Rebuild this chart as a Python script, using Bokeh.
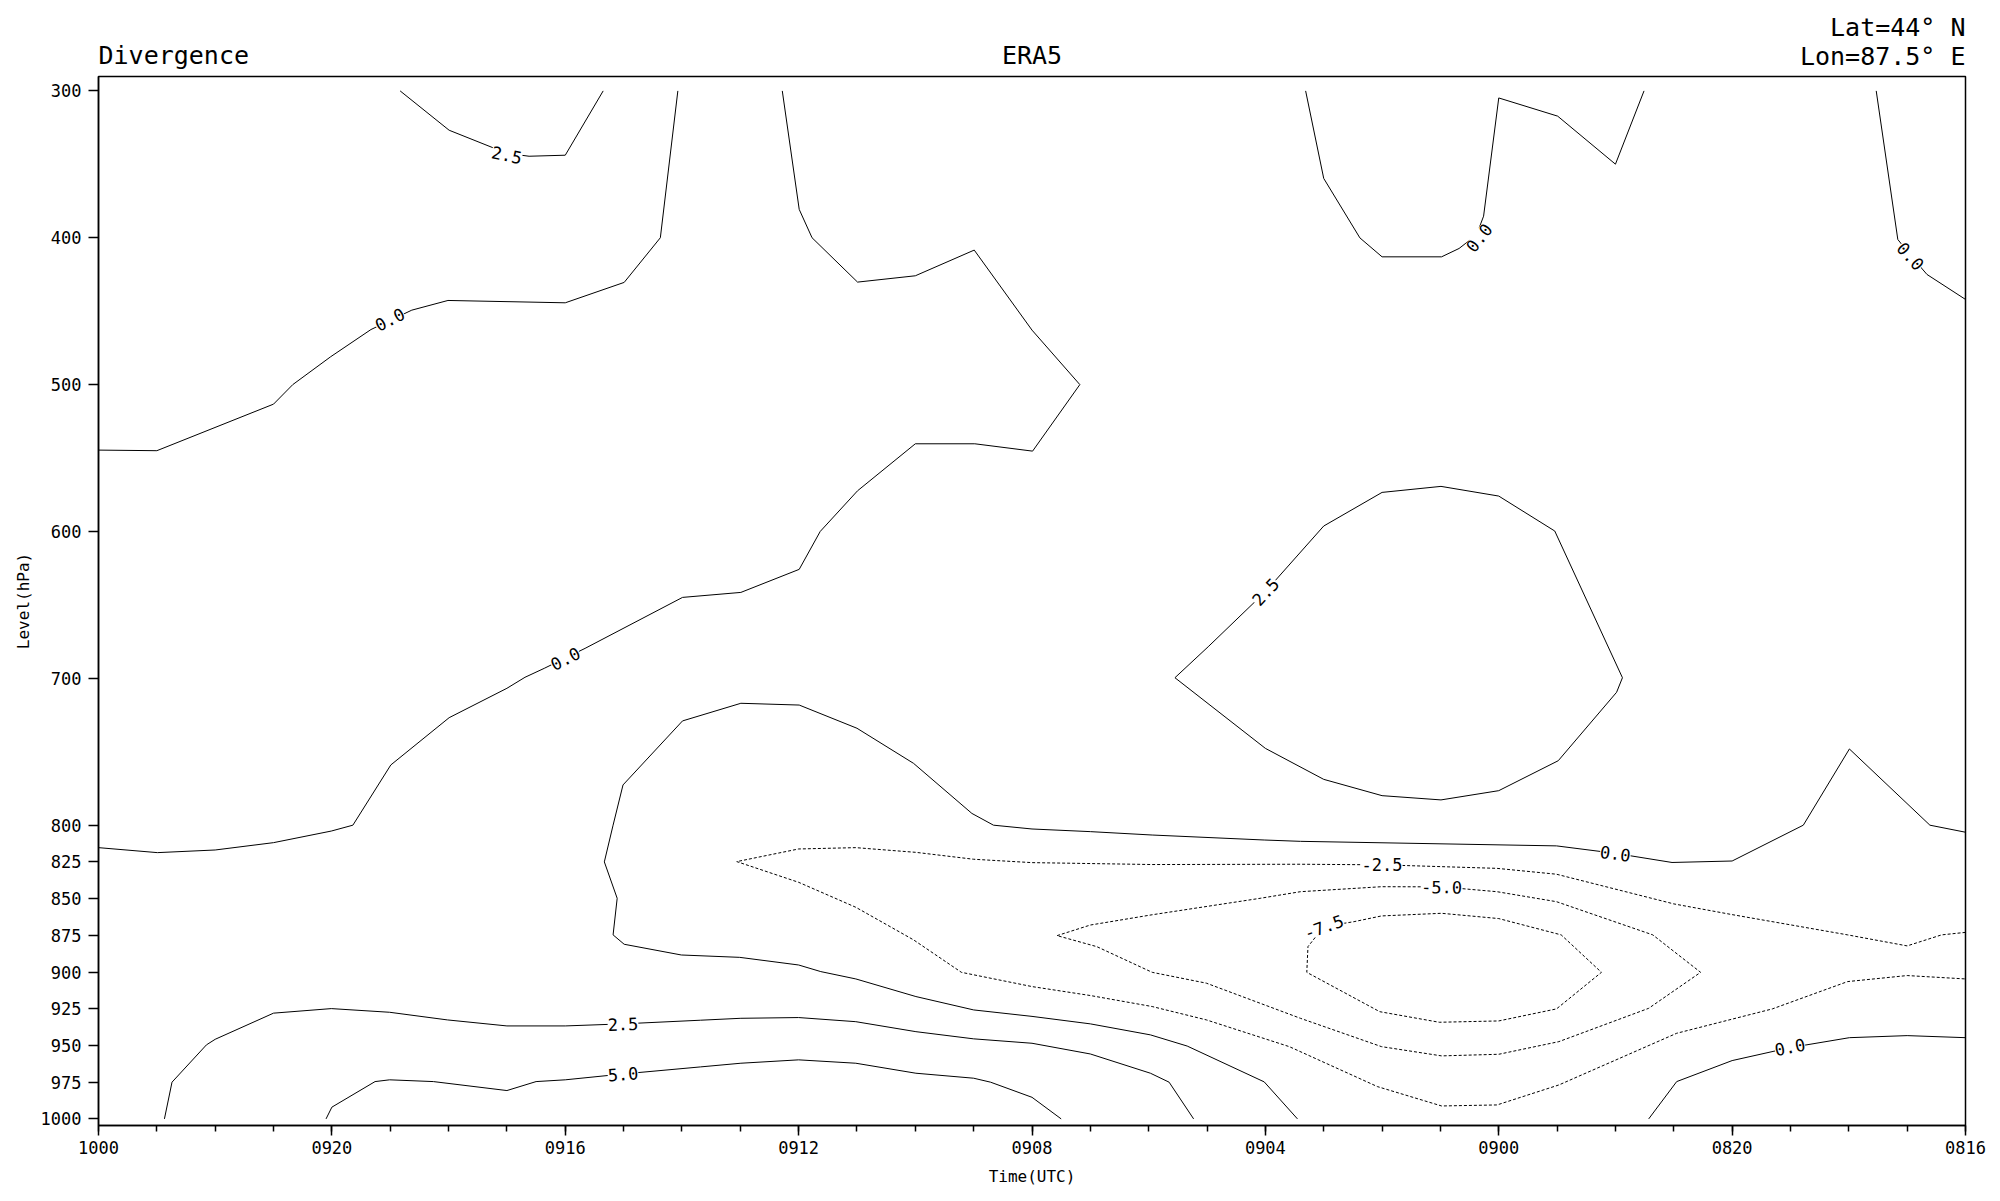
from bokeh.plotting import figure
from bokeh.models import Range1d, FixedTicker
from bokeh.layouts import column
from bokeh.embed import file_html
from bokeh.resources import INLINE
from bokeh.core.properties import value

FONT = "DejaVu Sans Mono"

# ---------------- data ----------------
# x: hours counted from 10 Sep 00 UTC (left) back to 08 Sep 16 UTC (right)
time_ticks = [0, 4, 8, 12, 16, 20, 24, 28, 32]
time_tick_labels = ["1000", "0920", "0916", "0912", "0908", "0904", "0900", "0820", "0816"]
time_minor = list(range(0, 33))
level_ticks = [300, 400, 500, 600, 700, 800, 825, 850, 875, 900, 925, 950, 975, 1000]

# contour 2.5, upper left
c_a_t = [5.17, 6.01, 7.0, 7.38, 8.0, 8.65]
c_a_p = [300, 326.8, 342.5, 344.5, 343.8, 300]
# contour 0.0, upper left
c_b_t = [0.0, 1.0, 3.0, 3.33, 3.98, 4.67, 5.37, 5.99, 8.0, 9.01, 9.63, 9.93]
c_b_p = [544.6, 545.0, 513.3, 500.0, 481.0, 462.5, 449.3, 442.7, 444.3, 430.4, 400.0, 300.0]
# contour 0.0, long band
c_c_t = [11.72, 12.01, 12.23, 13.01, 14.0, 15.01, 16.0, 16.82, 16.01, 15.02, 14.0, 13.01, 12.37, 12.01,
         11.01, 10.01, 8.34, 7.64, 7.31, 7.0, 6.01, 5.01, 4.36, 3.99, 3.0, 2.0, 1.01, 0.0]
c_c_p = [300, 380.7, 400, 430.2, 425.9, 408.4, 462.9, 500, 545.3, 540.3, 540.3, 572.3, 600, 625.8,
         641.5, 644.9, 679.6, 693.2, 699.3, 706.8, 726.8, 759, 800, 804, 811.9, 816.9, 818.7, 815.3]
# contour 0.0, upper right
c_d_t = [20.69, 21.0, 21.62, 22.0, 23.02, 23.32, 23.62, 23.74, 24.0, 25.01, 26.0, 26.49]
c_d_p = [300, 359.6, 400.1, 413, 413, 407.3, 398, 385.3, 304.8, 317.2, 349.9, 300]
# contour 0.0, right edge top
c_e_t = [30.47, 30.84, 31.08, 31.34, 32.0]
c_e_p = [300, 401.2, 413, 425, 442]
# contour 2.5, closed cell
c_f_t = [18.45, 19.02, 20.0, 21.0, 22.0, 23.01, 24.0, 24.96, 26.12, 26.02, 25.02, 24.0, 23.01, 22.0,
         21.0, 20.0, 18.45]
c_f_p = [699.6, 678.5, 641, 596.3, 573.4, 569.3, 575.9, 599.7, 699.6, 709.5, 756.1, 776.5, 782.8,
         779.9, 768.8, 747.7, 699.6]
# contour 0.0, around the low-level convergence
c_g_t = [32.0, 31.39, 30.01, 29.22, 28.0, 26.97, 26.0, 24.99, 20.6, 19.98, 18.06, 17.0, 16.0, 15.34,
         14.97, 13.97, 13.0, 12.01, 11.01, 10.01, 8.99, 8.82, 8.67, 8.89, 8.82, 9.01, 9.99, 10.99, 12.0,
         12.38, 12.98, 14.01, 15.0, 16.0, 17.0, 18.03, 18.66, 19.98, 20.55]
c_g_p = [804.8, 800, 748.1, 800, 824.4, 825.4, 819.2, 814.1, 811.0, 810.1, 806.7, 804.4, 802.6, 800,
         792, 757.9, 734, 718.2, 717, 729, 772.6, 800, 825, 849.8, 874.7, 881.1, 888.4, 890, 895.2,
         899.7, 904.7, 916.7, 925.8, 930.2, 935.3, 942.8, 950.4, 974.8, 1000]
# contour -2.5
c_m25_t = [32.0, 31.59, 31.0, 29.98, 28.0, 27.0, 24.99, 23.97, 22.0, 20.6, 18.06, 16.0, 15.0, 14.01,
           12.98, 12.0, 10.94, 12.0, 12.98, 13.97, 14.79, 16.0, 17.0, 18.06, 18.99, 20.41, 21.92,
           23.02, 23.97, 25.03, 27.05, 28.69, 29.98, 31.0, 32.0]
c_m25_p = [873.0, 874.7, 882.2, 874.7, 860.9, 853.6, 833.4, 829.4, 827.0, 826.6, 826.8, 825.5, 823.2,
           818.5, 815.3, 816.2, 824.8, 838.9, 855.9, 878.1, 900.2, 909.9, 916.0, 923.5, 932.6, 950.8,
           978.0, 991.2, 990.5, 976.9, 941.7, 925.1, 906.5, 902.4, 904.7]
# contour -5.0
c_m50_t = [16.43, 17.0, 18.06, 19.91, 20.6, 21.99, 23.02, 23.97, 24.99, 26.64, 27.46, 26.57, 25.03,
           24.0, 23.02, 21.99, 20.6, 18.99, 18.06, 17.11, 16.43]
c_m50_p = [875.2, 868.0, 861.0, 849.8, 845.3, 841.9, 842.0, 845.3, 852.1, 874.7, 900.2, 924.7, 947.4,
           956.0, 957.1, 950.8, 931.5, 907.6, 900.2, 882.7, 875.2]
# contour -7.5
c_m75_t = [21.0, 21.52, 21.99, 23.02, 24.0, 25.07, 25.76, 24.99, 24.0, 22.98, 21.96, 20.71, 20.73, 21.0]
c_m75_p = [869.1, 865.7, 861.8, 860.0, 863.6, 874.7, 900.2, 925.1, 933.3, 934.2, 927.0, 900.2, 882.7, 869.1]
# contour 0.0, lower right
c_h_t = [26.57, 27.05, 28.0, 28.99, 30.01, 31.0, 32.0]
c_h_p = [1000, 974.6, 960.3, 951.5, 944.7, 943.3, 944.7]
# contour 2.5, lower band
c_i_t = [1.13, 1.26, 1.85, 2.0, 3.0, 3.99, 4.99, 5.98, 7.0, 8.0, 8.99, 10.32, 11.01, 12.0, 12.98,
         14.01, 15.0, 16.0, 17.0, 18.03, 18.35, 18.77]
c_i_p = [1000, 975, 949.6, 945.8, 928, 924.9, 927.4, 932.6, 936.7, 936.7, 935.3, 932.8, 931.5, 931,
         933.8, 940.6, 945.5, 948.5, 955.8, 968.9, 975, 1000]
# contour 5.0, lowest band
c_j_t = [3.9, 4.0, 4.74, 4.99, 5.74, 7.0, 7.5, 8.0, 8.99, 10.32, 11.01, 12.0, 12.98, 14.01, 15.0,
         15.29, 16.0, 16.5]
c_j_p = [1000, 992, 974.6, 973.4, 974.6, 980.7, 974.6, 973.4, 969.4, 964.6, 962.1, 959.8, 962.1,
         968.9, 972.3, 975, 985.3, 1000]

contour_levels = [2.5, 0.0, 0.0, 0.0, 0.0, 2.5, 0.0, -2.5, -5.0, -7.5, 0.0, 2.5, 5.0]
contour_t = [c_a_t, c_b_t, c_c_t, c_d_t, c_e_t, c_f_t, c_g_t, c_m25_t, c_m50_t, c_m75_t, c_h_t, c_i_t, c_j_t]
contour_p = [c_a_p, c_b_p, c_c_p, c_d_p, c_e_p, c_f_p, c_g_p, c_m25_p, c_m50_p, c_m75_p, c_h_p, c_i_p, c_j_p]

# contour labels
lab_t = [7.0, 4.99, 8.0, 23.66, 31.06, 20.0, 8.99, 8.99, 26.0, 22.0, 23.02, 21.0, 28.99]
lab_p = [343.5, 455.5, 686.5, 400.0, 412.5, 641.0, 935.3, 969.4, 819.2, 826.5, 842.0, 869.1, 951.0]
lab_text = ["2.5", "0.0", "0.0", "0.0", "0.0", "2.5", "2.5", "5.0", "0.0", "-2.5", "-5.0", "-7.5", "0.0"]
lab_angle = [-12, 27, 27, 52, -48, 47, 2, 4, -8, 0, -1, 20, 11]

# header texts (x in the same time coordinate, y = pixels above header bottom)
head_text = ["Divergence", "ERA5", "Lon=87.5° E", "Lat=44° N"]
head_x = [0, 16, 32, 32]
head_y = [17, 17, 16, 45]
head_align = ["left", "center", "right", "right"]

FRAME_W, FRAME_H = 1867, 1049
BORDER_L, BORDER_R = 98, 30
HEAD_H = 72

# ---------------- header ----------------
h = figure(frame_width=FRAME_W, frame_height=HEAD_H, x_range=Range1d(0, 32), y_range=Range1d(0, HEAD_H),
           output_backend="svg", toolbar_location=None,
           min_border_left=BORDER_L, min_border_right=BORDER_R, min_border_top=0, min_border_bottom=0,
           background_fill_color="white", border_fill_color="white")
h.axis.visible = False
h.grid.visible = False
h.outline_line_color = None
h.text(x=head_x, y=head_y, text=head_text, text_align=head_align, text_baseline="alphabetic",
       text_font=value(FONT), text_font_size=value("25px"), text_color="black")

# ---------------- main figure ----------------
p = figure(frame_width=FRAME_W, frame_height=FRAME_H,
           x_range=Range1d(0, 32), y_range=Range1d(1004.5, 290.2),
           output_backend="svg", toolbar_location=None,
           min_border_left=BORDER_L, min_border_right=BORDER_R, min_border_top=4, min_border_bottom=67,
           background_fill_color="white", border_fill_color="white")
p.outline_line_color = "black"
p.outline_line_width = 1.5
p.xgrid.visible = False
p.ygrid.visible = False

solid_xs, solid_ys, dash_xs, dash_ys = [], [], [], []
for lev, ts, ps in zip(contour_levels, contour_t, contour_p):
    if lev < 0:
        dash_xs.append(ts); dash_ys.append(ps)
    else:
        solid_xs.append(ts); solid_ys.append(ps)

p.multi_line(solid_xs, solid_ys, line_color="black", line_width=1)
p.multi_line(dash_xs, dash_ys, line_color="black", line_width=1, line_dash="3 2")

p.text(x=lab_t, y=lab_p, text=lab_text, angle=lab_angle, angle_units="deg",
       text_font=value(FONT), text_font_size=value("17px"), text_color="black",
       text_align="center", text_baseline="middle",
       background_fill_color="white", border_line_color=None)

# axes
xa = p.xaxis[0]
xa.ticker = FixedTicker(ticks=time_ticks, minor_ticks=time_minor)
xa.major_label_overrides = {t: l for t, l in zip(time_ticks, time_tick_labels)}
xa.axis_label = "Time(UTC)"
ya = p.yaxis[0]
ya.ticker = FixedTicker(ticks=level_ticks)
ya.axis_label = "Level(hPa)"
for ax in (xa, ya):
    ax.axis_line_width = 1.5
    ax.axis_line_color = "black"
    ax.major_tick_line_width = 1.5
    ax.major_tick_line_color = "black"
    ax.major_tick_out = 10
    ax.major_tick_in = 0
    ax.major_label_text_font = FONT
    ax.major_label_text_font_size = "17px"
    ax.major_label_text_color = "black"
    ax.axis_label_text_font = FONT
    ax.axis_label_text_font_size = "16px"
    ax.axis_label_text_font_style = "normal"
    ax.axis_label_text_color = "black"
xa.minor_tick_out = 6
xa.minor_tick_in = 0
xa.minor_tick_line_width = 1.5
xa.minor_tick_line_color = "black"
xa.major_label_standoff = 5
xa.axis_label_standoff = 10
ya.minor_tick_line_color = None
ya.major_label_standoff = 7
ya.axis_label_standoff = 5

layout = column(h, p, spacing=0)
open("out.html", "w").write(file_html(layout, INLINE))
